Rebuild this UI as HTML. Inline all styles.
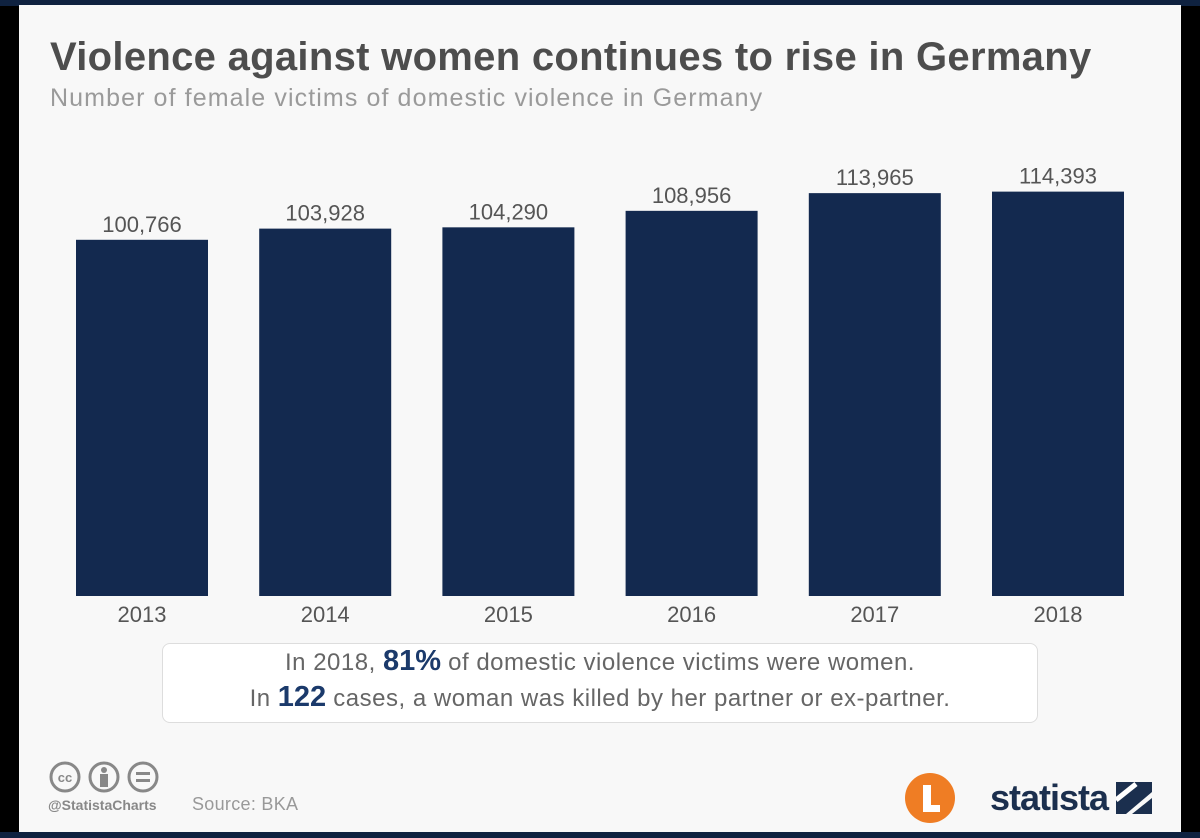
<!DOCTYPE html>
<html><head><meta charset="utf-8">
<style>
body{margin:0;width:1200px;height:838px;background:#000;position:relative;overflow:hidden;font-family:"Liberation Sans",sans-serif}
#frame{position:absolute;left:0;top:0;width:1200px;height:6px;background:#0f2240}
#frameb{position:absolute;left:0;top:832px;width:1200px;height:6px;background:#0f2240}
#card{position:absolute;left:19px;top:5px;width:1162px;height:827px;background:#f8f8f8}
.t{position:absolute;white-space:nowrap}
#box{position:absolute;left:162px;top:643px;width:874px;height:78px;background:#fff;border:1px solid #ddd;border-radius:8px;text-align:center;color:#666;font-size:24px;letter-spacing:0.5px;line-height:35px}
#box b{color:#1b3a6b;font-size:29px;letter-spacing:0}
</style></head><body>
<div id="frame"></div>
<div id="frameb"></div>
<div id="card"></div>
<div class="t" style="left:50px;top:35px;font-size:40px;letter-spacing:0.3px;font-weight:bold;color:#4d4d4d">Violence against women continues to rise in Germany</div>
<div class="t" style="left:50px;top:84px;font-size:25px;letter-spacing:1.1px;color:#9a9a9a">Number of female victims of domestic violence in Germany</div>
<svg id="chart" style="position:absolute;left:0;top:0" width="1200" height="640"></svg>
<div id="box">In 2018, <b>81%</b> of domestic violence victims were women.<br>In <b>122</b> cases, a woman was killed by her partner or ex-partner.</div>
<svg style="position:absolute;left:48px;top:760px" width="120" height="34">
<g fill="none" stroke="#888" stroke-width="3"><circle cx="17" cy="17" r="14"/><circle cx="56" cy="17" r="14"/><circle cx="95" cy="17" r="14"/></g>
<text x="17" y="22" font-size="13" font-weight="bold" fill="#888" text-anchor="middle" font-family="Liberation Sans">cc</text>
<circle cx="56" cy="10" r="3" fill="#888"/><rect x="52" y="14" width="8" height="13" fill="#888"/>
<rect x="88" y="12" width="14" height="3" fill="#888"/><rect x="88" y="19" width="14" height="3" fill="#888"/>
</svg>
<div class="t" style="left:48px;top:797px;font-size:14px;font-weight:bold;color:#888">@StatistaCharts</div>
<div class="t" style="left:192px;top:794px;font-size:18px;letter-spacing:0.3px;color:#999">Source: BKA</div>
<svg style="position:absolute;left:904px;top:772px" width="52" height="52"><circle cx="26" cy="26" r="25" fill="#ef7d24"/><path d="M19 13h8v20h9v7H19z" fill="#fff"/></svg>
<div class="t" style="left:990px;top:777px;font-size:36px;font-weight:bold;color:#1b2f4e;letter-spacing:-1px">statista</div>
<svg style="position:absolute;left:1116px;top:782px" width="36" height="32"><path d="M0 0h36v10L10 32H0z M16 32L36 16v16z" fill="#1b2f4e"/><path d="M0 18L20 2" stroke="#fff" stroke-width="5"/></svg>
<script>
const categories=["2013","2014","2015","2016","2017","2018"];
const values=[100766,103928,104290,108956,113965,114393];
const valueLabels=["100,766","103,928","104,290","108,956","113,965","114,393"];
const svg=document.getElementById('chart');
const NS='http://www.w3.org/2000/svg';
const baseY=596, pxPer=0.003535, x0=76, step=183.2, bw=132;
function xScale(i){return x0+i*step;}
function yScale(v){return baseY-v*pxPer;}
categories.forEach((c,i)=>{
  const r=document.createElementNS(NS,'rect');
  
  
  r.setAttribute('x',xScale(i));r.setAttribute('y',yScale(values[i]));
  r.setAttribute('width',bw);r.setAttribute('height',baseY-yScale(values[i]));
  r.setAttribute('fill','#13294f');svg.appendChild(r);
  const t=document.createElementNS(NS,'text');
  
  
  t.setAttribute('x',xScale(i)+bw/2);t.setAttribute('y',yScale(values[i])-8);
  t.setAttribute('text-anchor','middle');t.setAttribute('font-size','22');t.setAttribute('fill','#555');
  t.setAttribute('font-family','Liberation Sans');t.textContent=valueLabels[i];svg.appendChild(t);
  const y=document.createElementNS(NS,'text');
  
  
  y.setAttribute('x',xScale(i)+bw/2);y.setAttribute('y',622);
  y.setAttribute('text-anchor','middle');y.setAttribute('font-size','22');y.setAttribute('fill','#555');
  y.setAttribute('font-family','Liberation Sans');y.textContent=c;svg.appendChild(y);
});
</script>
</body></html>
